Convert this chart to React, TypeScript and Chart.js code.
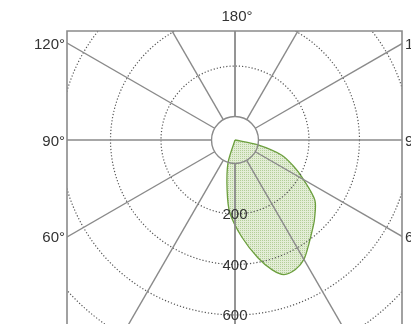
import React, { useEffect, useRef } from "react";
import { Chart, registerables } from "chart.js";

Chart.register(...registerables);

// Polar luminous-intensity curve (gamma angle in degrees, intensity in cd)
const gammaDeg = [78, 72, 66, 61, 53, 45, 41, 35, 30, 25, 20, 16, 11, 4, -4, -9, -17];
const intensityCd = [0, 102, 160, 210, 303, 352, 375, 415, 453, 473, 474, 442, 382, 292, 197, 107, 2];

// Grid definitions
const ringValues = [200, 400, 600, 800, 1000];
const ringLabels = ["200", "400", "600", "800"];
const spokeAngles = [0, 30, 60, 90, 120, 150, 180];
const sideAngleLabels = [60, 90, 120];
const topAngleLabel = 180;

// Layout constants
const HOLE_CD = 93; // radius of the central hole, in cd units
const PX_PER_CD = 0.2525;
const CANVAS_W = 403;
const CANVAS_H = 360;
const PAD = { left: 59, top: 23, right: 9, bottom: 10 };
const CENTER_X = 227;
const CENTER_Y = 132;

const FONT = "15px 'Liberation Sans', Arial, sans-serif";

const gridPlugin = {
  id: "polarGrid",
  afterDatasetsDraw(chart: any) {
    const { ctx, chartArea, scales } = chart;
    const { left, top, right, bottom } = chartArea;
    const xs = scales.x;
    const ys = scales.y;
    const cx = xs.getPixelForValue(0);
    const cy = ys.getPixelForValue(0);
    const k = (xs.getPixelForValue(1000) - cx) / 1000;
    const holeR = HOLE_CD * k;

    ctx.save();
    ctx.beginPath();
    ctx.rect(left, top, right - left, bottom - top);
    ctx.clip();

    // dotted rings
    ctx.setLineDash([1.2, 2]);
    ctx.strokeStyle = "#555";
    ctx.lineWidth = 1.2;
    for (const v of ringValues) {
      ctx.beginPath();
      ctx.arc(cx, cy, (HOLE_CD + v) * k, 0, Math.PI * 2);
      ctx.stroke();
    }

    // spokes
    ctx.setLineDash([]);
    ctx.strokeStyle = "#8a8a8a";
    ctx.lineWidth = 1.4;
    const far = 2000;
    for (const a of spokeAngles) {
      for (const side of [-1, 1]) {
        const r = (a * Math.PI) / 180;
        const dx = side * Math.sin(r);
        const dy = Math.cos(r);
        ctx.beginPath();
        ctx.moveTo(cx + dx * holeR, cy + dy * holeR);
        ctx.lineTo(cx + dx * far, cy + dy * far);
        ctx.stroke();
      }
    }
    // hole
    ctx.beginPath();
    ctx.arc(cx, cy, holeR, 0, Math.PI * 2);
    ctx.stroke();

    // ring labels
    ctx.font = FONT;
    ctx.fillStyle = "#333";
    ctx.textAlign = "center";
    ctx.textBaseline = "middle";
    ringLabels.forEach((lab) => {
      const v = Number(lab);
      ctx.fillText(lab, cx, cy + (HOLE_CD + v) * k + 1);
    });
    ctx.restore();

    // frame
    ctx.save();
    ctx.strokeStyle = "#8a8a8a";
    ctx.lineWidth = 1.6;
    ctx.beginPath();
    ctx.rect(left, top, right - left, bottom - top);
    ctx.stroke();

    // angle labels
    ctx.font = FONT;
    ctx.fillStyle = "#333";
    ctx.textBaseline = "alphabetic";
    for (const a of sideAngleLabels) {
      const r = (a * Math.PI) / 180;
      const tL = (cx - left) / Math.sin(r);
      const yL = cy + Math.cos(r) * tL;
      ctx.textAlign = "right";
      ctx.fillText(a + "°", left - 2, yL + 5.5);
      const tR = (right - cx) / Math.sin(r);
      const yR = cy + Math.cos(r) * tR;
      ctx.textAlign = "left";
      ctx.fillText(a + "°", right + 3, yR + 5.5);
    }
    ctx.textAlign = "center";
    ctx.fillText(topAngleLabel + "°", cx + 2, top - 10.5);
    ctx.restore();
  },
};

export default function App() {
  const ref = useRef<HTMLCanvasElement | null>(null);

  useEffect(() => {
    const canvas = ref.current;
    if (!canvas) return;
    const ctx = canvas.getContext("2d")!;

    const pc = document.createElement("canvas");
    pc.width = 2;
    pc.height = 2;
    const p = pc.getContext("2d")!;
    p.fillStyle = "#e3edd6";
    p.fillRect(0, 0, 2, 2);
    p.fillStyle = "#b3cf98";
    p.fillRect(0, 0, 1, 1);
    const pattern = ctx.createPattern(pc, "repeat");

    const pts: { x: number; y: number }[] = [{ x: 0, y: 0 }];
    gammaDeg.forEach((g, i) => {
      const R = HOLE_CD + intensityCd[i];
      const rad = (g * Math.PI) / 180;
      pts.push({ x: Math.sin(rad) * R, y: -Math.cos(rad) * R });
    });
    pts.push({ x: 0, y: 0 });

    const xMin = -(CENTER_X - PAD.left) / PX_PER_CD;
    const xMax = (CANVAS_W - PAD.right - CENTER_X) / PX_PER_CD;
    const yMax = (CENTER_Y - PAD.top) / PX_PER_CD;
    const yMin = -(CANVAS_H - PAD.bottom - CENTER_Y) / PX_PER_CD;

    const chart = new Chart(ctx, {
      type: "scatter",
      data: {
        datasets: [
          {
            data: pts,
            showLine: true,
            fill: "shape" as any,
            backgroundColor: pattern as any,
            borderColor: "#6c9f3e",
            borderWidth: 1.3,
            pointRadius: 0,
            tension: 0.3,
          },
        ],
      },
      options: {
        animation: false,
        responsive: false,
        events: [],
        layout: { padding: PAD },
        scales: {
          x: { type: "linear", min: xMin, max: xMax, display: false },
          y: { type: "linear", min: yMin, max: yMax, display: false },
        },
        plugins: {
          legend: { display: false },
          tooltip: { enabled: false },
        },
      },
      plugins: [gridPlugin],
    });
    return () => chart.destroy();
  }, []);

  return (
    <div
      style={{
        position: "fixed",
        left: 8,
        top: 8,
        width: CANVAS_W,
        height: 316,
        overflow: "hidden",
      }}
    >
      <canvas
        ref={ref}
        width={CANVAS_W}
        height={CANVAS_H}
        style={{ display: "block", width: CANVAS_W, height: CANVAS_H }}
      />
    </div>
  );
}
